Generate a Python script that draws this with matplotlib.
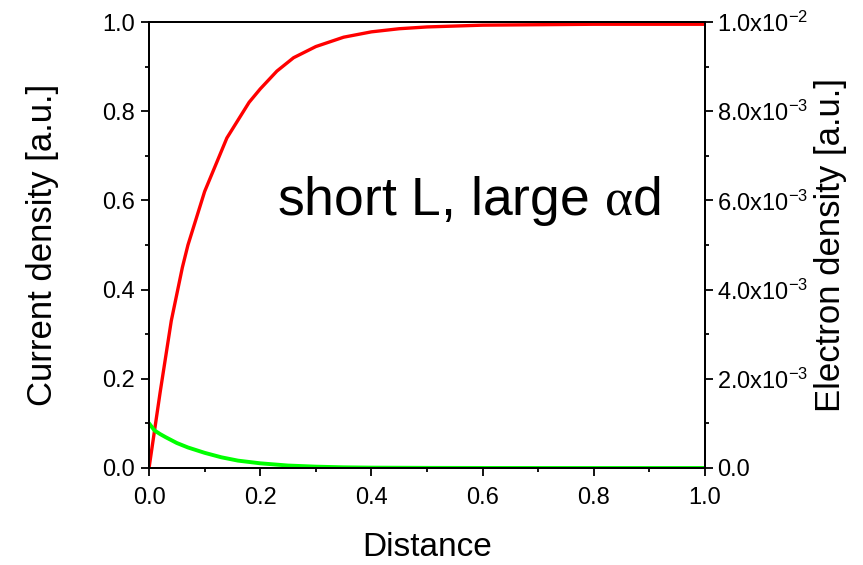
import math
import matplotlib
matplotlib.use("Agg")
import matplotlib.pyplot as plt
from matplotlib.ticker import MultipleLocator, FuncFormatter

plt.rcParams['font.family'] = ['Liberation Sans', 'DejaVu Sans']
plt.rcParams['mathtext.fontset'] = 'custom'
plt.rcParams['mathtext.rm'] = 'Liberation Sans'
plt.rcParams['mathtext.it'] = 'Liberation Sans:italic'
plt.rcParams['mathtext.sf'] = 'Liberation Serif'

# Current density (left axis)
current_x = [0.0, 0.01, 0.02, 0.03, 0.04, 0.05, 0.06, 0.07, 0.08, 0.09, 0.10,
             0.12, 0.14, 0.16, 0.18, 0.20, 0.23, 0.26, 0.30, 0.35, 0.40, 0.45,
             0.50, 0.60, 0.70, 0.80, 0.90, 1.0]
current_y = [0.0, 0.085, 0.17, 0.25, 0.33, 0.39, 0.45, 0.50, 0.54, 0.58, 0.62,
             0.68, 0.74, 0.78, 0.82, 0.85, 0.89, 0.92, 0.945, 0.966, 0.978, 0.985,
             0.989, 0.993, 0.994, 0.995, 0.995, 0.995]

# Electron density (right axis)
electron_x = [0.0, 0.01, 0.02, 0.03, 0.05, 0.07, 0.10, 0.13, 0.16, 0.20, 0.25,
              0.30, 0.35, 0.40, 0.50, 0.60, 0.80, 1.0]
electron_y = [1.0e-3, 0.84e-3, 0.76e-3, 0.69e-3, 0.56e-3, 0.46e-3, 0.34e-3, 0.24e-3,
              0.165e-3, 0.105e-3, 0.055e-3, 0.03e-3, 0.015e-3, 0.008e-3, 0.003e-3,
              0.001e-3, 0.0, 0.0]

fig = plt.figure(figsize=(8.63, 5.65), dpi=100)
ax = fig.add_axes([0.1727, 0.1717, 0.6442, 0.7893])
ax2 = ax.twinx()

ax.plot(current_x, current_y, color='#ff0000', lw=2.4, zorder=3, solid_joinstyle='round')
ax2.plot(electron_x, electron_y, color='#00ff00', lw=2.8, zorder=2, solid_joinstyle='round')

ax.set_xlim(0, 1.0)
ax.set_ylim(0, 1.0)
ax2.set_ylim(0, 1.0e-2)

ax.xaxis.set_major_locator(MultipleLocator(0.2))
ax.xaxis.set_minor_locator(MultipleLocator(0.1))
ax.yaxis.set_major_locator(MultipleLocator(0.2))
ax.yaxis.set_minor_locator(MultipleLocator(0.1))
ax2.yaxis.set_major_locator(MultipleLocator(2e-3))
ax2.yaxis.set_minor_locator(MultipleLocator(1e-3))

ax.xaxis.set_major_formatter(FuncFormatter(lambda v, p: f"{v:.1f}"))
ax.yaxis.set_major_formatter(FuncFormatter(lambda v, p: f"{v:.1f}"))


def sci(v, p):
    if abs(v) < 1e-12:
        return "0.0"
    e = int(math.floor(math.log10(abs(v)) + 1e-9))
    m = v / 10 ** e
    return f"{m:.1f}x10$^{{{e}}}$"


ax2.yaxis.set_major_formatter(FuncFormatter(sci))

for a in (ax, ax2):
    a.tick_params(which='major', direction='out', length=6, width=1.3, labelsize=17, pad=4)
    a.tick_params(which='minor', direction='out', length=3, width=1.3)
    for s in a.spines.values():
        s.set_linewidth(1.4)
ax.tick_params(axis='x', pad=8)
ax2.tick_params(axis='y', pad=3)

ax.set_xlabel("Distance", fontsize=24, labelpad=16)
ax.set_ylabel("Current density [a.u.]", fontsize=25, labelpad=31)
ax2.set_ylabel("Electron density [a.u.]", fontsize=25, labelpad=4)

ax.text(0.23, 0.567, "short L, large $\\mathsf{\\alpha}$d", fontsize=38.5,
        va='baseline', ha='left')

fig.savefig("out.png", dpi=100)
